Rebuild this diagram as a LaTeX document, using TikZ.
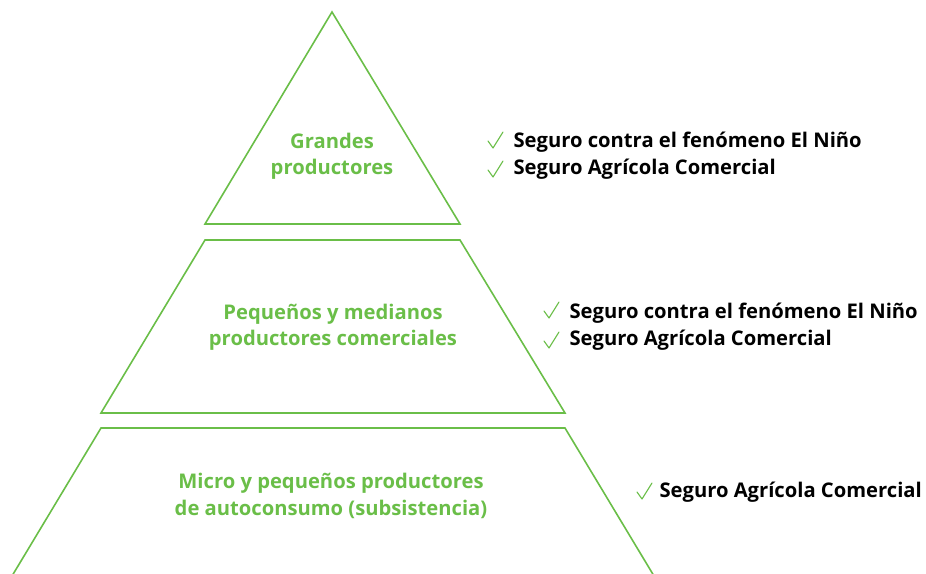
\documentclass[tikz,border=0pt]{standalone}
\usepackage{fontspec}
\setmainfont{Open Sans}
\definecolor{pgreen}{RGB}{106,190,72}
\tikzset{
  tier/.style={draw=pgreen, line width=1.6pt, line join=miter},
  glabel/.style={text=pgreen, font=\bfseries\fontsize{20.2}{26.5}\selectfont, align=center},
  blabel/.style={text=black, font=\bfseries\fontsize{20.2}{27}\selectfont, anchor=west, align=left},
  chk/.style={draw=pgreen, line width=1.1pt, line cap=round, line join=round}
}
\newcommand{\chkmark}[1]{\draw[chk] ($(#1)+(-6,-1)$) -- ($(#1)+(-1,6)$) -- ($(#1)+(9,-10)$);}
\usetikzlibrary{calc}
\begin{document}
\begin{tikzpicture}[x=1pt,y=-1pt]
\useasboundingbox (0,0) rectangle (926,573);
% tiers
\draw[tier] (332,12) -- (460,224) -- (205,224) -- cycle;
\draw[tier] (205,240) -- (460,240) -- (565,413) -- (101,413) -- cycle;
\begin{scope}
\clip (0,0) rectangle (926,573);
\draw[tier] (12,576) -- (101,428) -- (565,428) -- (654,576);
\end{scope}
% tier labels
\node[glabel] (t1) at (332,156) {Grandes\\productores};
\node[glabel] (t2) at (333,327) {Pequeños y medianos\\productores comerciales};
\node[glabel] (t3) at (331,496) {Micro y pequeños productores\\de autoconsumo (subsistencia)};
% right lists
\node[blabel] (r1a) at (510,142) {Seguro contra el fenómeno El Niño};
\node[blabel] (r1b) at (510,169) {Seguro Agrícola Comercial};
\node[blabel] (r2a) at (566,313) {Seguro contra el fenómeno El Niño};
\node[blabel] (r2b) at (566,340) {Seguro Agrícola Comercial};
\node[blabel] (r3a) at (656,492) {Seguro Agrícola Comercial};
% check marks
\coordinate (c1a) at (494,142);
\coordinate (c1b) at (494,171);
\coordinate (c2a) at (550,312);
\coordinate (c2b) at (550,342);
\coordinate (c3a) at (643,493);
\chkmark{c1a}
\chkmark{c1b}
\chkmark{c2a}
\chkmark{c2b}
\chkmark{c3a}
\end{tikzpicture}
\end{document}
